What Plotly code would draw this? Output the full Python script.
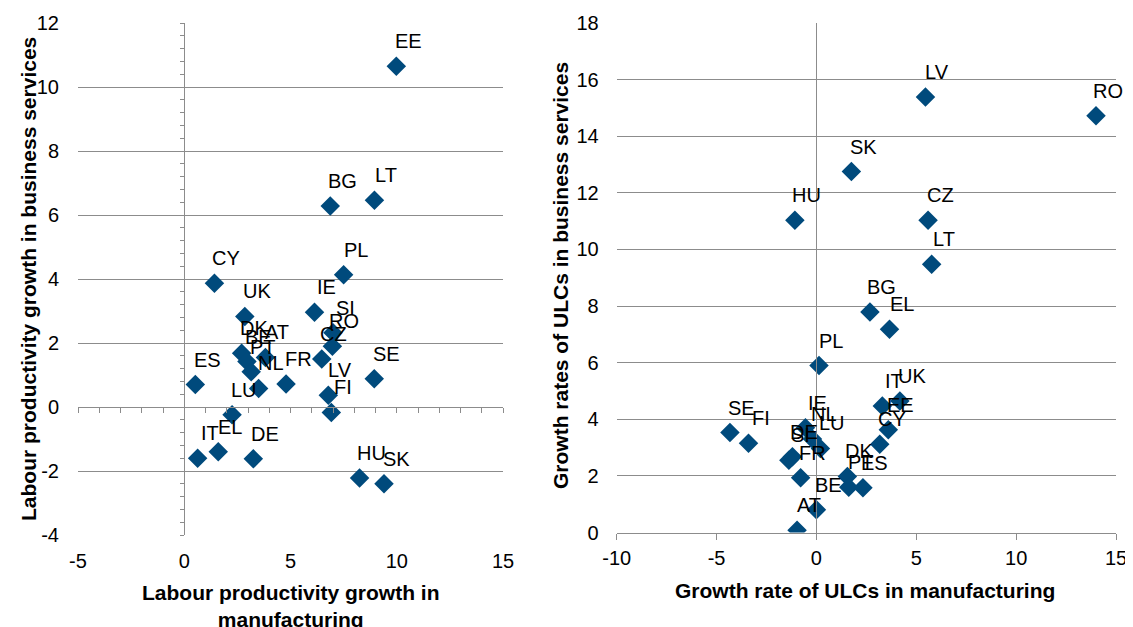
import plotly.graph_objects as go

# ---------------- data ----------------
# Left panel: labour productivity growth
lp_countries = ["EE", "BG", "LT", "PL", "CY", "UK", "IE", "SI", "RO", "CZ", "DK", "BE", "AT",
                "PT", "NL", "FR", "ES", "LV", "FI", "SE", "LU", "IT", "EL", "DE", "HU", "SK"]
lp_manufacturing = [9.98, 6.87, 8.95, 7.5, 1.42, 2.85, 6.13, 7.0, 6.97, 6.47, 2.7, 2.95, 3.82,
                    3.15, 3.5, 4.79, 0.52, 6.78, 6.92, 8.94, 2.25, 0.63, 1.6, 3.25, 8.25, 9.4]
lp_services = [10.65, 6.28, 6.46, 4.13, 3.87, 2.83, 2.96, 2.32, 1.9, 1.5, 1.68, 1.42, 1.55,
               1.1, 0.58, 0.72, 0.7, 0.37, -0.17, 0.88, -0.24, -1.6, -1.4, -1.62, -2.22, -2.4]

# Right panel: growth rates of unit labour costs
ulc_countries = ["LV", "RO", "SK", "HU", "CZ", "LT", "BG", "EL", "PL", "IT", "UK", "EE", "CY",
                 "SE", "FI", "IE", "NL", "LU", "DE", "SI", "FR", "DK", "PT", "ES", "BE", "AT"]
ulc_manufacturing = [5.46, 14.0, 1.75, -1.08, 5.59, 5.77, 2.68, 3.66, 0.13, 3.3, 4.18, 3.6, 3.17,
                     -4.33, -3.4, -0.55, -0.2, 0.2, -1.2, -1.38, -0.79, 1.55, 1.62, 2.33, 0.0, -0.97]
ulc_services = [15.39, 14.72, 12.75, 11.03, 11.03, 9.48, 7.79, 7.18, 5.9, 4.47, 4.65, 3.63, 3.12,
                3.53, 3.15, 3.7, 3.3, 2.97, 2.68, 2.55, 1.93, 1.98, 1.6, 1.58, 0.8, 0.08]

left_xticks = [-5, 0, 5, 10, 15]
left_yticks = [-4, -2, 0, 2, 4, 6, 8, 10, 12]
right_xticks = [-10, -5, 0, 5, 10, 15]
right_yticks = [0, 2, 4, 6, 8, 10, 12, 14, 16, 18]

# ---------------- style ----------------
PAGE_W, PAGE_H = 1133, 627
BODY = 8  # default page margin around the plot div
W, H = PAGE_W - BODY, PAGE_H - BODY
FONT = "Liberation Sans, Arial, sans-serif"
MARK = "#004A7C"
GRID = "#8C8C8C"
TICKFS = 20
LABFS = 20
TITLEFS = 21

def px_x(p):
    return (p - BODY) / W

def px_y(p):
    return 1 - (p - BODY) / H

L_dom_x = [px_x(78), px_x(503)]
L_dom_y = [px_y(535), px_y(23)]
R_dom_x = [px_x(616.7), px_x(1116)]
R_dom_y = [px_y(532.5), px_y(23)]

L_xr = [left_xticks[0], left_xticks[-1]]
L_yr = [left_yticks[0], left_yticks[-1]]
R_xr = [right_xticks[0], right_xticks[-1]]
R_yr = [right_yticks[0], right_yticks[-1]]

fig = go.Figure()

marker = dict(symbol="diamond", size=15, color=MARK, line=dict(width=0))

fig.add_trace(go.Scatter(x=lp_manufacturing, y=lp_services, mode="markers",
                         marker=marker, xaxis="x", yaxis="y", showlegend=False,
                         text=lp_countries, hoverinfo="text+x+y"))
fig.add_trace(go.Scatter(x=ulc_manufacturing, y=ulc_services, mode="markers",
                         marker=marker, xaxis="x2", yaxis="y2", showlegend=False,
                         text=ulc_countries, hoverinfo="text+x+y"))
# empty traces so the crossing axis lines (overlay axes) are drawn
fig.add_trace(go.Scatter(x=[None], y=[None], xaxis="x3", yaxis="y3", mode="markers",
                         showlegend=False, hoverinfo="skip"))
fig.add_trace(go.Scatter(x=[None], y=[None], xaxis="x2", yaxis="y4", mode="markers",
                         showlegend=False, hoverinfo="skip"))

annotations = []
for c, x, y in zip(lp_countries, lp_manufacturing, lp_services):
    annotations.append(dict(x=x, y=y, xref="x", yref="y", text=c, showarrow=False,
                            xanchor="center", yanchor="middle", xshift=12, yshift=25,
                            font=dict(family=FONT, size=LABFS, color="#000000")))
for c, x, y in zip(ulc_countries, ulc_manufacturing, ulc_services):
    annotations.append(dict(x=x, y=y, xref="x2", yref="y2", text=c, showarrow=False,
                            xanchor="center", yanchor="middle", xshift=12, yshift=25,
                            font=dict(family=FONT, size=LABFS, color="#000000")))

tfont = dict(family=FONT, size=TITLEFS, color="#000000")
annotations += [
    dict(x=px_x(28), y=px_y(279), xref="paper", yref="paper", showarrow=False,
         text="<b>Labour productivity growth in business services</b>", textangle=-90,
         xanchor="center", yanchor="middle", font=tfont),
    dict(x=px_x(291), y=px_y(606), xref="paper", yref="paper", showarrow=False,
         text="<b>Labour productivity growth in<br>manufacturing</b>",
         xanchor="center", yanchor="middle", font=tfont),
    dict(x=px_x(560), y=px_y(276), xref="paper", yref="paper", showarrow=False,
         text="<b>Growth rates of ULCs in business services</b>", textangle=-90,
         xanchor="center", yanchor="middle", font=tfont),
    dict(x=px_x(865), y=px_y(590), xref="paper", yref="paper", showarrow=False,
         text="<b>Growth rate of ULCs in manufacturing</b>",
         xanchor="center", yanchor="middle", font=tfont),
]

tickfont = dict(family=FONT, size=TICKFS, color="#000000")

def frac(v, r, dom):
    return dom[0] + (v - r[0]) / (r[1] - r[0]) * (dom[1] - dom[0])

def labels(vals):
    return [str(v) for v in vals]

fig.update_layout(
    width=W, height=H, autosize=False,
    margin=dict(l=0, r=0, t=0, b=0, pad=0),
    paper_bgcolor="white", plot_bgcolor="white",
    font=dict(family=FONT, size=TICKFS, color="#000000"),
    annotations=annotations,
    # left panel
    xaxis=dict(domain=L_dom_x, range=L_xr, anchor="y", tickvals=left_xticks,
               ticktext=labels(left_xticks), automargin=False,
               showgrid=False, zeroline=False, showline=False, ticks="",
               tickfont=tickfont, ticklabelstandoff=12),
    yaxis=dict(domain=L_dom_y, range=L_yr, anchor="x", tickvals=left_yticks,
               ticktext=labels(left_yticks), automargin=False,
               showgrid=True, gridcolor=GRID, gridwidth=1.3, zeroline=False,
               showline=False, ticks="", tickfont=tickfont, ticklabelstandoff=18),
    xaxis3=dict(overlaying="x", anchor="free", position=frac(0, L_yr, L_dom_y),
                range=L_xr, tick0=-5, dtick=1, showticklabels=False, showgrid=False,
                automargin=False,
                zeroline=False, showline=True, linecolor=GRID, linewidth=1.3,
                ticks="outside", ticklen=5, tickcolor=GRID, tickwidth=1.3),
    yaxis3=dict(overlaying="y", anchor="free", position=frac(0, L_xr, L_dom_x),
                range=L_yr, tick0=0, dtick=0.4, showticklabels=False, showgrid=False,
                automargin=False,
                zeroline=False, showline=True, linecolor=GRID, linewidth=1.3,
                ticks="outside", ticklen=4, tickcolor=GRID, tickwidth=1.3),
    # right panel
    xaxis2=dict(domain=R_dom_x, range=R_xr, anchor="y2", tickvals=right_xticks,
                ticktext=labels(right_xticks), automargin=False,
                showgrid=False, zeroline=False, showline=True, linecolor=GRID,
                linewidth=1.3, ticks="outside", ticklen=6, tickcolor=GRID, tickwidth=1.3,
                tickfont=tickfont, ticklabelstandoff=1),
    yaxis2=dict(domain=R_dom_y, range=R_yr, anchor="x2", tickvals=right_yticks,
                ticktext=labels(right_yticks), automargin=False,
                showgrid=True, gridcolor=GRID, gridwidth=1.3, zeroline=False,
                showline=False, ticks="", tickfont=tickfont, ticklabelstandoff=17),
    yaxis4=dict(overlaying="y2", anchor="free", position=frac(0, R_xr, R_dom_x),
                range=R_yr, showticklabels=False, showgrid=False, zeroline=False,
                automargin=False,
                showline=True, linecolor=GRID, linewidth=1.3, ticks=""),
)

fig.write_html("out.html")
